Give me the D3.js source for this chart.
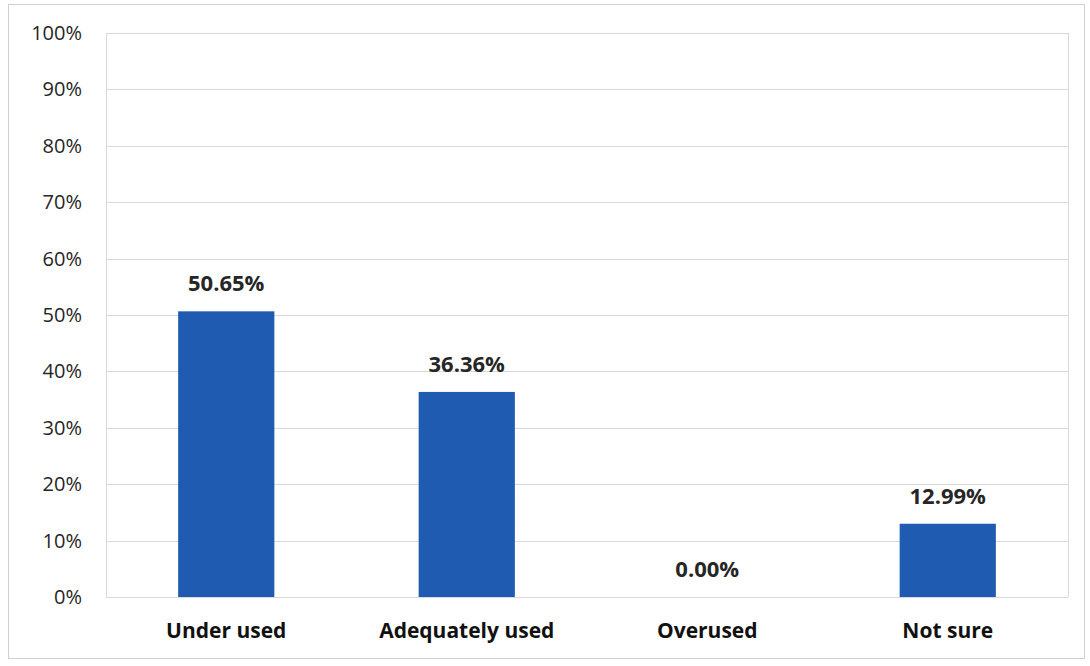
<!DOCTYPE html>
<html>
<head>
<meta charset="utf-8">
<script src="https://cdnjs.cloudflare.com/ajax/libs/d3/7.8.5/d3.min.js"></script>
<style>
  html, body { margin: 0; padding: 0; background: #fff; }
  svg { display: block; }
</style>
</head>
<body>
<svg id="chart" width="1090" height="666"></svg>
<script>
// Survey responses: share of respondents per usage rating
const categories = ["Under used", "Adequately used", "Overused", "Not sure"];
const shares = [50.65, 36.36, 0.00, 12.99];
const tickValues = [0, 10, 20, 30, 40, 50, 60, 70, 80, 90, 100];

const svg = d3.select("#chart");
const plot = { left: 106, right: 1068, top: 33, bottom: 597 };
const FONT = "'Open Sans', Lato, sans-serif";

// outer chart frame
svg.append("rect")
  .attr("x", 8.5).attr("y", 4.5)
  .attr("width", 1076).attr("height", 654)
  .attr("fill", "#fff")
  .attr("stroke", "#d0d0d0").attr("stroke-width", 1);

const x = d3.scaleBand()
  .domain(categories)
  .range([plot.left, plot.right])
  .paddingInner(0.6)
  .paddingOuter(0.3);

const y = d3.scaleLinear()
  .domain([0, 100])
  .range([plot.bottom, plot.top]);

// horizontal gridlines
svg.append("g")
  .selectAll("line")
  .data(tickValues)
  .join("line")
  .attr("x1", plot.left).attr("x2", plot.right)
  .attr("y1", d => Math.round(y(d)) + 0.5)
  .attr("y2", d => Math.round(y(d)) + 0.5)
  .attr("stroke", "#d9d9d9").attr("stroke-width", 1);

// plot area side borders
svg.append("line")
  .attr("x1", plot.left + 0.5).attr("x2", plot.left + 0.5)
  .attr("y1", plot.top).attr("y2", plot.bottom)
  .attr("stroke", "#d9d9d9");
svg.append("line")
  .attr("x1", plot.right + 0.5).attr("x2", plot.right + 0.5)
  .attr("y1", plot.top).attr("y2", plot.bottom)
  .attr("stroke", "#d9d9d9");

// y axis labels
const yAxis = d3.axisLeft(y)
  .tickValues(tickValues)
  .tickFormat(d => d + "%")
  .tickSize(0)
  .tickPadding(24);
const gy = svg.append("g")
  .attr("transform", `translate(${plot.left},0)`)
  .call(yAxis);
gy.select(".domain").remove();
gy.selectAll("text")
  .attr("font-family", FONT)
  .attr("font-size", 20)
  .attr("fill", "#262626");

// bars
svg.append("g")
  .selectAll("rect")
  .data(categories)
  .join("rect")
  .attr("x", d => x(d))
  .attr("y", (d, i) => y(shares[i]))
  .attr("width", x.bandwidth())
  .attr("height", (d, i) => y(0) - y(shares[i]))
  .attr("fill", "#1f5bb0");

// value labels above bars
svg.append("g")
  .selectAll("text")
  .data(categories)
  .join("text")
  .attr("x", d => x(d) + x.bandwidth() / 2)
  .attr("y", (d, i) => y(shares[i]) - 20)
  .attr("text-anchor", "middle")
  .attr("font-family", FONT)
  .attr("font-weight", "bold")
  .attr("font-size", 22)
  .attr("fill", "#262626")
  .text((d, i) => shares[i].toFixed(2) + "%");

// category axis labels
const xAxis = d3.axisBottom(x).tickSize(0).tickPadding(26);
const gx = svg.append("g")
  .attr("transform", `translate(0,${plot.bottom})`)
  .call(xAxis);
gx.select(".domain").remove();
gx.selectAll("text")
  .attr("font-family", FONT)
  .attr("font-weight", "bold")
  .attr("font-size", 21)
  .attr("fill", "#111");
</script>
</body>
</html>
